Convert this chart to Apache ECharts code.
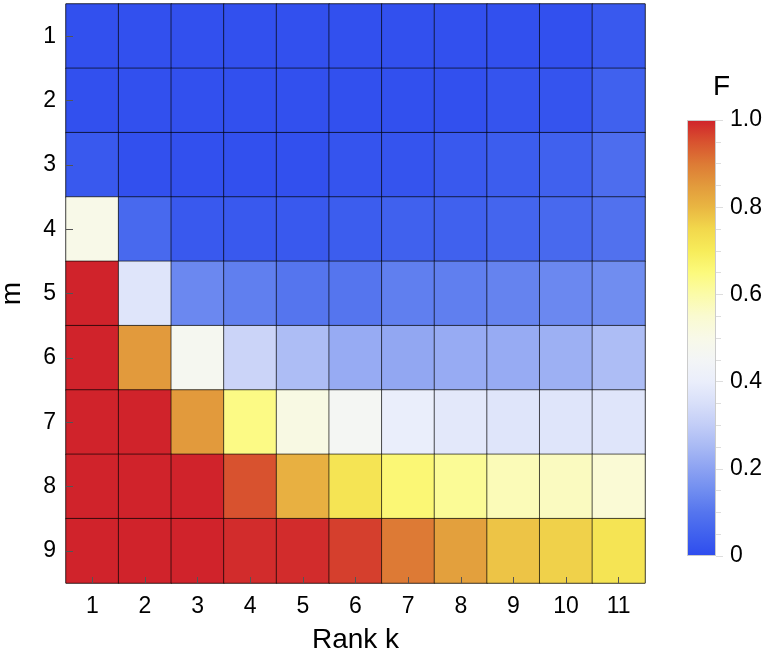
<!DOCTYPE html>
<html>
<head>
<meta charset="utf-8">
<script src="https://cdn.jsdelivr.net/npm/echarts@6/dist/echarts.min.js"></script>
<style>
html,body{margin:0;padding:0;background:#fff;}
#main{width:781px;height:664px;}
</style>
</head>
<body>
<div id="main"></div>
<script>
// rank k along x, m along y (1 on top)
var kLabels = ['1','2','3','4','5','6','7','8','9','10','11'];
var mLabels = ['1','2','3','4','5','6','7','8','9'];

// F values, one row per m
var F = [
    [0.01,0.01,0.01,0.01,0.01,0.01,0.01,0.01,0.01,0.01,0.03],
    [0.01,0.01,0.01,0.01,0.01,0.01,0.01,0.01,0.02,0.02,0.05],
    [0.03,0.01,0.01,0.01,0.01,0.02,0.02,0.03,0.04,0.05,0.08],
    [0.50,0.07,0.03,0.03,0.03,0.04,0.05,0.05,0.06,0.07,0.09],
    [1.00,0.37,0.14,0.12,0.10,0.10,0.12,0.12,0.13,0.14,0.15],
    [1.00,0.85,0.47,0.32,0.26,0.22,0.21,0.22,0.22,0.23,0.26],
    [1.00,1.00,0.85,0.64,0.51,0.46,0.40,0.38,0.37,0.37,0.37],
    [1.00,1.00,1.00,0.95,0.81,0.72,0.66,0.62,0.58,0.57,0.54],
    [1.00,1.00,1.00,0.99,0.99,0.97,0.90,0.84,0.78,0.76,0.72]
];

// colour scale, evenly spaced from 0 to 1
var scaleColors = ['#2e4cee','#4061ee','#5575ee','#708df0','#8ca2f2','#a8b9f4','#c2cdf7',
    '#d8dff9','#eaeefb','#f3f5f6','#f8f9e8','#fafad0','#fbfba8','#fcfa7c','#f7ec5a',
    '#f2d84c','#e9b642','#e29a3c','#dd7a35','#d8522f','#d0232b'];

var barValue = [1];

var font = 'Liberation Sans, Helvetica, Arial, sans-serif';

var data = [];
F.forEach(function (row, i) {
    row.forEach(function (v, j) {
        data.push([j, i, v]);
    });
});

var gradStops = scaleColors.map(function (c, i) {
    return { offset: 1 - i / (scaleColors.length - 1), color: c };
});

var myChart = echarts.init(document.getElementById('main'));
var option = {
    animation: false,
    backgroundColor: '#fff',
    title: {
        text: 'F',
        left: 708,
        top: 68,
        textStyle: { fontFamily: font, fontSize: 28, fontWeight: 'normal', color: '#000' }
    },
    grid: [
        { left: 66, right: 136, top: 4, bottom: 81, show: true, borderColor: '#777', borderWidth: 1, outerBoundsMode: 'none' },
        { left: 687, top: 120, width: 29, height: 436, outerBoundsMode: 'none' }
    ],
    xAxis: [{
        type: 'category',
        data: kLabels,
        gridIndex: 0,
        name: 'Rank k',
        nameLocation: 'middle',
        nameGap: 43,
        nameTextStyle: { fontFamily: font, fontSize: 28, color: '#000' },
        axisLine: { show: false },
        axisTick: { show: true, inside: true, alignWithLabel: true, length: 6, lineStyle: { color: '#555' } },
        axisLabel: { fontFamily: font, fontSize: 23, color: '#000', margin: 12 },
        splitLine: { show: false },
        z: 10
    }, {
        type: 'category',
        data: [''],
        gridIndex: 1,
        show: false
    }],
    yAxis: [{
        type: 'category',
        data: mLabels,
        gridIndex: 0,
        inverse: true,
        name: 'm',
        nameLocation: 'middle',
        nameGap: 40,
        nameTextStyle: { fontFamily: font, fontSize: 28, color: '#000' },
        axisLine: { show: false },
        axisTick: { show: true, inside: true, alignWithLabel: true, length: 7, lineStyle: { color: '#555' } },
        axisLabel: { fontFamily: font, fontSize: 23, color: '#000', margin: 10 },
        splitLine: { show: false },
        z: 10
    }, {
        type: 'value',
        gridIndex: 1,
        min: 0,
        max: 1,
        interval: 0.2,
        position: 'right',
        axisLine: { show: false },
        axisTick: { show: true, length: 7, lineStyle: { color: '#ddd' } },
        minorTick: { show: true, splitNumber: 4, length: 5, lineStyle: { color: '#ddd' } },
        axisLabel: {
            fontFamily: font, fontSize: 23, color: '#000', margin: 14,
            formatter: function (v) { return v === 0 ? '0' : v.toFixed(1); }
        },
        splitLine: { show: false }
    }],
    visualMap: {
        show: false,
        type: 'continuous',
        min: 0,
        max: 1,
        seriesIndex: 0,
        dimension: 2,
        inRange: { color: scaleColors }
    },
    series: [{
        type: 'heatmap',
        xAxisIndex: 0,
        yAxisIndex: 0,
        data: data,
        itemStyle: { borderColor: 'rgba(0,0,0,0.65)', borderWidth: 1 },
        emphasis: { disabled: true }
    }, {
        type: 'bar',
        xAxisIndex: 1,
        yAxisIndex: 1,
        data: barValue,
        barWidth: '100%',
        itemStyle: {
            color: new echarts.graphic.LinearGradient(0, 0, 0, 1, gradStops),
            borderColor: '#ccc',
            borderWidth: 1
        },
        silent: true
    }]
};
myChart.setOption(option);
</script>
</body>
</html>
